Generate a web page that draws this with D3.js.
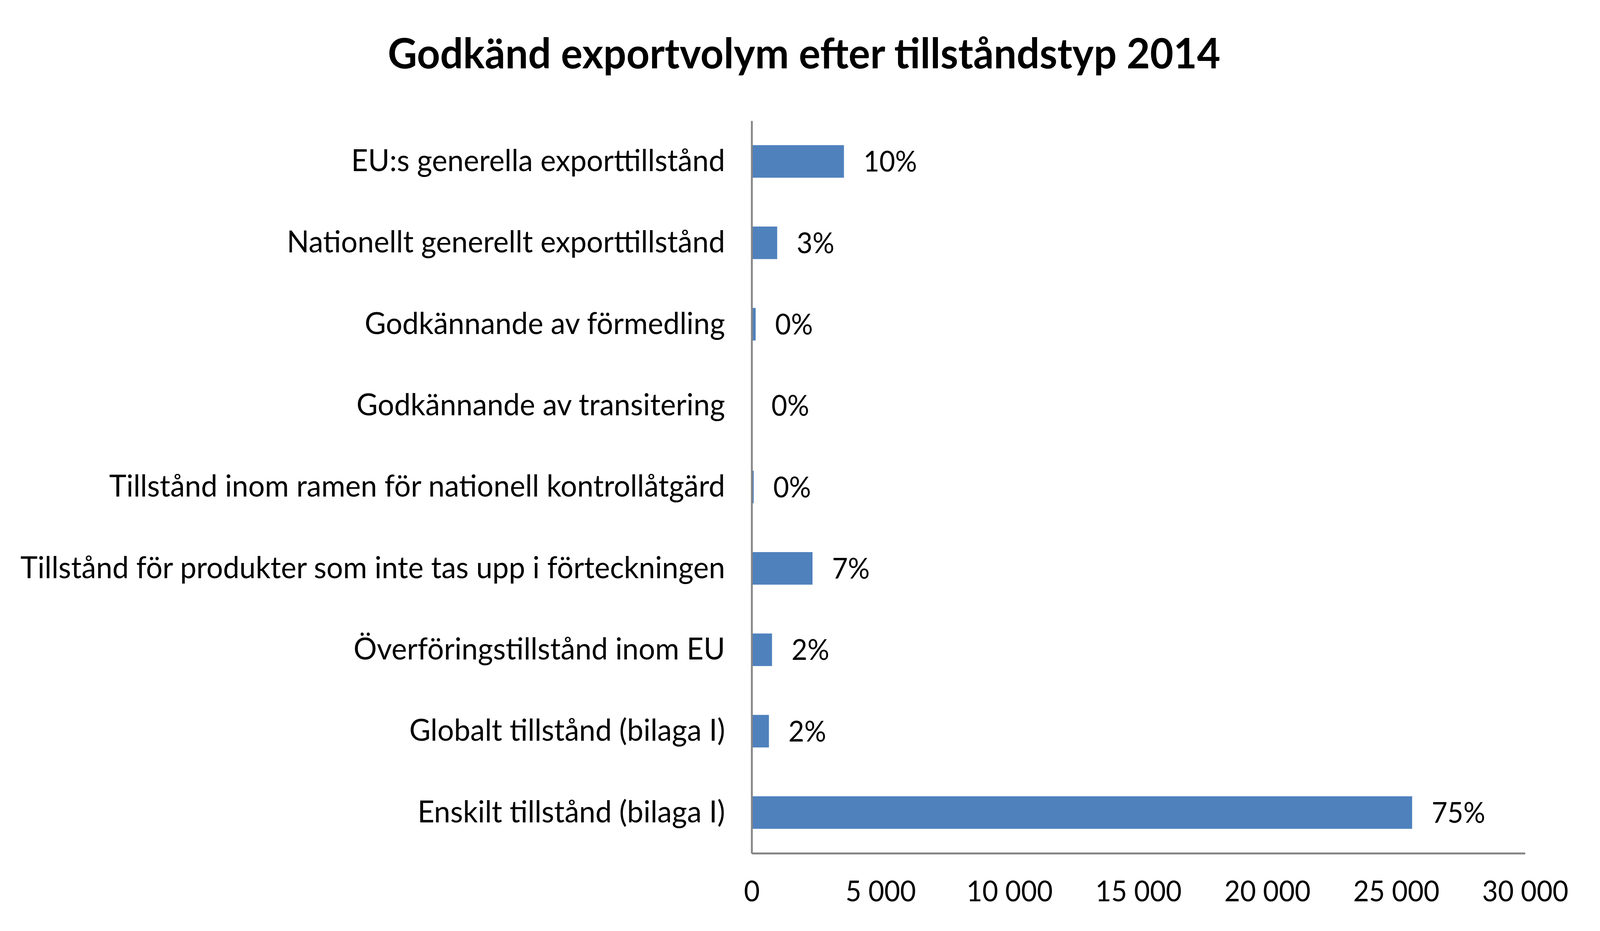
<!DOCTYPE html>
<html>
<head>
<meta charset="utf-8">
<script src="https://d3js.org/d3.v7.min.js"></script>
<style>
  html, body { margin: 0; padding: 0; background: #fff; overflow: hidden; }
  svg { display: block; }
  text { font-family: Lato, "Open Sans", sans-serif; fill: #000; }
</style>
</head>
<body>
<div id="chart"></div>
<script>
// data
var categories = [
    "EU:s generella exporttillstånd",
    "Nationellt generellt exporttillstånd",
    "Godkännande av förmedling",
    "Godkännande av transitering",
    "Tillstånd inom ramen för nationell kontrollåtgärd",
    "Tillstånd för produkter som inte tas upp i förteckningen",
    "Överföringstillstånd inom EU",
    "Globalt tillstånd (bilaga I)",
    "Enskilt tillstånd (bilaga I)"
];
var volumes = [3580, 990, 155, 10, 80, 2360, 790, 670, 25620];
var xTicks = [0, 5000, 10000, 15000, 20000, 25000, 30000];
var title = "Godkänd exportvolym efter tillståndstyp 2014";

var W = 4270, H = 2383;
var margin = {top: 309, right: 200, bottom: 199, left: 2006},
    width = 4070 - margin.left,
    height = 2184 - margin.top;

var total = d3.sum(volumes);
var pct = d3.format(".0%");
var sv = d3.formatLocale({decimal: ",", thousands: " ", grouping: [3], currency: ["", " kr"]});
var fmtTick = sv.format(",d");

// fill the window whatever size it really has
var svg = d3.select("#chart").append("svg")
    .attr("viewBox", "0 0 " + W + " " + H)
    .attr("preserveAspectRatio", "none")
    .style("width", "100vw")
    .style("height", "100vh");

svg.append("text")
    .attr("x", 2146)
    .attr("y", 175)
    .attr("text-anchor", "middle")
    .style("font-size", "108px")
    .style("font-weight", "bold")
    .text(title);

var g = svg.append("g")
    .attr("transform", "translate(" + margin.left + "," + margin.top + ")");

var x = d3.scaleLinear().domain([0, 30000]).range([0, width]);
var y = d3.scaleBand().domain(categories).range([0, height])
    .paddingInner(0.6).paddingOuter(0.3);

// bars
g.selectAll("rect.bar")
    .data(volumes)
    .enter().append("rect")
    .attr("class", "bar")
    .style("fill", "#4F81BD")
    .attr("x", 0)
    .attr("y", function(d, i) { return y(categories[i]); })
    .attr("width", function(d) { return x(d); })
    .attr("height", y.bandwidth());

// percentage labels
g.selectAll("text.lbl")
    .data(volumes)
    .enter().append("text")
    .attr("class", "lbl")
    .attr("x", function(d) { return x(d) + 52; })
    .attr("y", function(d, i) { return y(categories[i]) + y.bandwidth() / 2; })
    .attr("dy", "0.36em")
    .style("font-size", "73px")
    .text(function(d) { return pct(d / total); });

// x axis
var xAxis = g.append("g")
    .attr("transform", "translate(0," + height + ")")
    .call(d3.axisBottom(x).tickValues(xTicks).tickFormat(fmtTick)
        .tickSize(0).tickPadding(71));

// y axis
var yAxis = g.append("g")
    .call(d3.axisLeft(y).tickSize(0).tickPadding(71));

[xAxis, yAxis].forEach(function(a) {
    a.select(".domain").attr("stroke", "#868686").attr("stroke-width", 5);
    a.selectAll("text")
        .style("font-family", "Lato, 'Open Sans', sans-serif")
        .attr("fill", "#000");
});
xAxis.selectAll("text").style("font-size", "73px");
yAxis.selectAll("text").style("font-size", "78px");
</script>
</body>
</html>
